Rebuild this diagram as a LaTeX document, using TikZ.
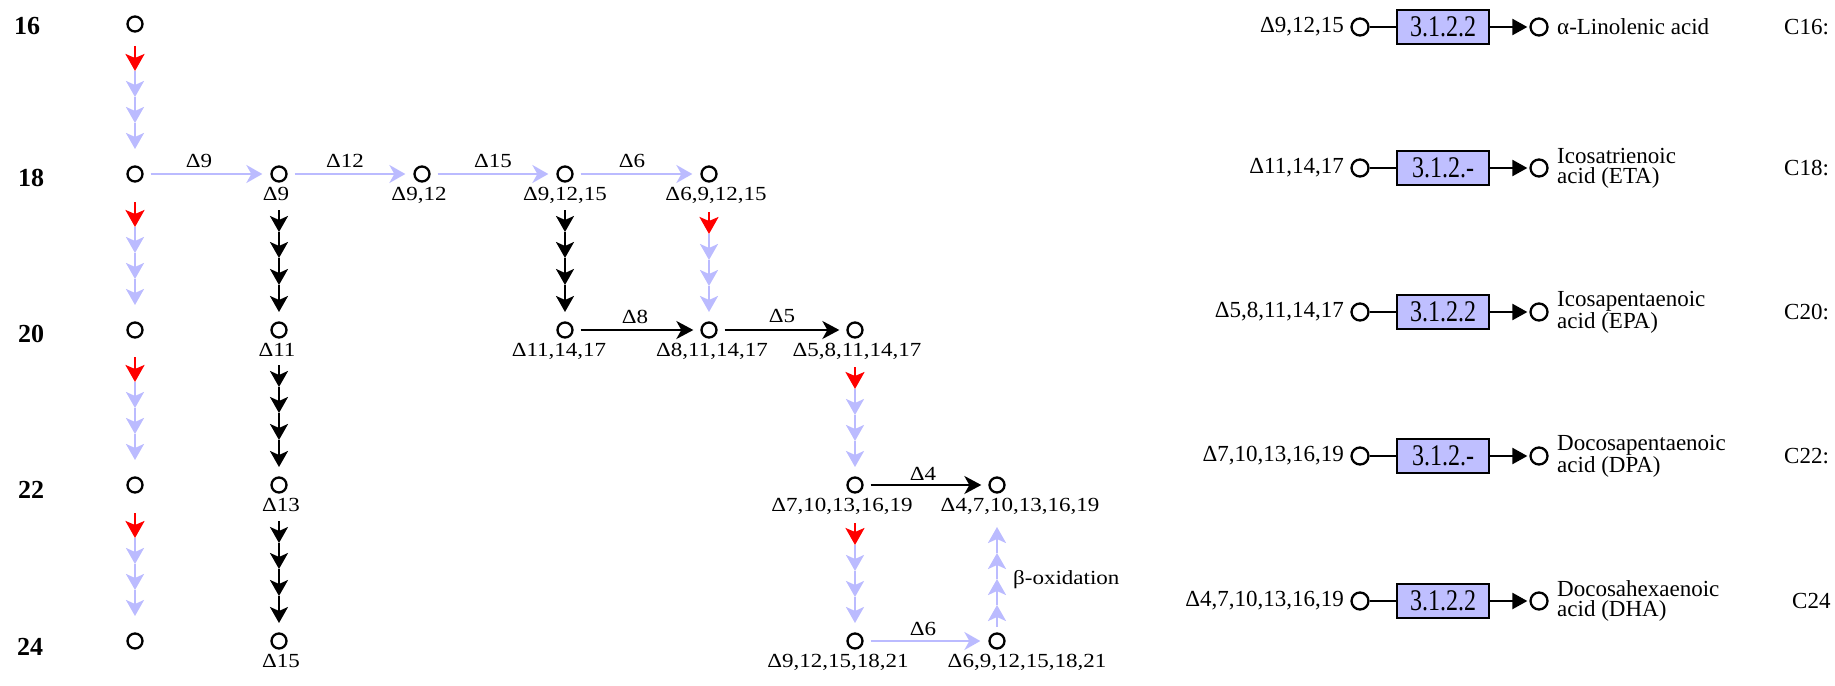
\documentclass[tikz,border=0pt]{standalone}
\usepackage{fontspec}
\setmainfont{Liberation Serif}
\newfontfamily\lblfont[FakeStretch=1.15]{Liberation Serif}
\newfontfamily\rfont{Liberation Serif}
\newfontfamily\boxfont[FakeStretch=0.8]{Liberation Serif}
\usetikzlibrary{arrows.meta,calc}
\definecolor{lav}{RGB}{187,187,255}
\definecolor{boxfill}{RGB}{191,191,255}
\newcommand{\chainleft}[1]{%
  \draw[redc] ($(#1)+(0,-128)$) -- ($(#1)+(0,-103)$);
  \foreach \a/\b in {-103/-77,-77/-51,-51/-25}
    \draw[lavc] ($(#1)+(0,\a)$) -- ($(#1)+(0,\b)$);}
\newcommand{\chainlav}[1]{%
  \draw[redc] ($(#1)+(0,-118)$) -- ($(#1)+(0,-96)$);
  \foreach \a/\b in {-96/-70,-70/-44,-44/-18}
    \draw[lavc] ($(#1)+(0,\a)$) -- ($(#1)+(0,\b)$);}
\newcommand{\chainblk}[1]{%
  \foreach \a/\b in {-120/-98,-98/-72,-72/-45,-45/-18}
    \draw[blkc] ($(#1)+(0,\a)$) -- ($(#1)+(0,\b)$);}
\begin{document}
\begin{tikzpicture}[x=1pt,y=-1pt,
  pt/.style={circle,draw,line width=2.3pt,minimum size=15pt,inner sep=0pt},
  rpt/.style={circle,draw,line width=2.3pt,minimum size=17pt,inner sep=0pt},
  lbl/.style={font=\lblfont\fontsize{20}{24}\selectfont,inner sep=0pt,anchor=base},
  rlbl/.style={font=\rfont\fontsize{23}{20}\selectfont,inner sep=0pt,align=left},
  numlbl/.style={font=\rfont\bfseries\fontsize{26}{30}\selectfont,inner sep=0pt},
  ecbox/.style={draw,line width=2pt,fill=boxfill,minimum width=92pt,minimum height=34pt,inner sep=0pt,font=\boxfont\fontsize{30}{30}\selectfont},
  lavline/.style={draw=lav,line width=2.4pt},
  lavh/.style={lavline,-{Stealth[length=16pt,width=18pt,inset=5pt]},shorten <=7pt,shorten >=8pt},
  blkh/.style={line width=2.4pt,-{Stealth[length=17pt,width=18pt,inset=5pt]},shorten <=7pt,shorten >=7pt},
  lavc/.style={lavline,-{Stealth[length=16pt,width=18pt,inset=4pt]}},
  redc/.style={draw=red,line width=2.6pt,-{Stealth[length=17pt,width=19pt,inset=4pt]}},
  blkc/.style={line width=2.4pt,-{Stealth[length=16pt,width=18pt,inset=4pt]}},
  rarr/.style={line width=2.3pt,-{Triangle[length=15pt,width=16pt]},shorten >=2pt},
]
\useasboundingbox (0,0) rectangle (1835,685);

% row numbers
\node[numlbl] (n16) at (27,26) {16};
\node[numlbl] (n18) at (31,178) {18};
\node[numlbl] (n20) at (31,334) {20};
\node[numlbl] (n22) at (31,490) {22};
\node[numlbl] (n24) at (30,647) {24};

% left column
\node[pt] (c16) at (135,24) {};
\node[pt] (c18) at (135,174) {};
\node[pt] (c20) at (135,330) {};
\node[pt] (c22) at (135,485) {};
\node[pt] (c24) at (135,641) {};
\chainleft{c18}
\chainleft{c20}
\chainleft{c22}
\chainleft{c24}

% pathway nodes
\node[pt] (d9) at (279,174) {};
\node[pt] (d11) at (279,330) {};
\node[pt] (d13) at (279,485) {};
\node[pt] (d15) at (279,641) {};
\node[pt] (d912) at (422,174) {};
\node[pt] (d91215) at (565,174) {};
\node[pt] (d691215) at (709,174) {};
\node[pt] (d111417) at (565,330) {};
\node[pt] (d8111417) at (709,330) {};
\node[pt] (d58) at (855,330) {};
\node[pt] (d710) at (855,485) {};
\node[pt] (d4710) at (997,485) {};
\node[pt] (d91221) at (855,641) {};
\node[pt] (d6921) at (997,641) {};

% node labels
\node[lbl] (ld9) at (276,200) {Δ9};
\node[lbl] (ld11) at (277,356) {Δ11};
\node[lbl] (ld13) at (281,511) {Δ13};
\node[lbl] (ld15) at (281,667) {Δ15};
\node[lbl] (ld912) at (419,200) {Δ9,12};
\node[lbl] (ld91215) at (565,200) {Δ9,12,15};
\node[lbl] (ld691215) at (716,200) {Δ6,9,12,15};
\node[lbl] (ld111417) at (559,356) {Δ11,14,17};
\node[lbl] (ld8111417) at (712,356) {Δ8,11,14,17};
\node[lbl] (ld58) at (857,356) {Δ5,8,11,14,17};
\node[lbl] (ld710) at (842,511) {Δ7,10,13,16,19};
\node[lbl] (ld4710) at (1020,511) {Δ4,7,10,13,16,19};
\node[lbl] (ld91221) at (838,667) {Δ9,12,15,18,21};
\node[lbl] (ld6921) at (1027,667) {Δ6,9,12,15,18,21};

% horizontal reactions
\draw[lavh] (c18) -- (d9);
\draw[lavh] (d9) -- (d912);
\draw[lavh] (d912) -- (d91215);
\draw[lavh] (d91215) -- (d691215);
\draw[blkh] (d111417) -- (d8111417);
\draw[blkh] (d8111417) -- (d58);
\draw[blkh] (d710) -- (d4710);
\draw[lavh] (d91221) -- (d6921);

\node[lbl] (e9) at (199,167) {Δ9};
\node[lbl] (e12) at (345,167) {Δ12};
\node[lbl] (e15) at (493,167) {Δ15};
\node[lbl] (e6a) at (632,167) {Δ6};
\node[lbl] (e8) at (635,323) {Δ8};
\node[lbl] (e5) at (782,322) {Δ5};
\node[lbl] (e4) at (923,480) {Δ4};
\node[lbl] (e6b) at (923,635) {Δ6};

% vertical chains
\chainblk{d11}
\chainblk{d13}
\chainblk{d15}
\chainblk{d111417}
\chainlav{d8111417}
\chainlav{d710}
\chainlav{d91221}

% beta-oxidation (upwards)
\draw[lavc] ($(d6921)+(0,-14)$) -- ($(d4710)+(0,120)$);
\foreach \a/\b in {120/94,94/68,68/42}
  \draw[lavc] ($(d4710)+(0,\a)$) -- ($(d4710)+(0,\b)$);
\node[lbl,anchor=base west] (beta) at (1013,584) {β-oxidation};

% right side: thioesterase reactions
\foreach \i/\y in {1/27,2/168,3/312,4/456,5/601}{
  \node[rpt] (rl\i) at (1360,\y) {};
  \node[rpt] (rr\i) at (1539,\y) {};
}
\node[ecbox] (b1) at (1443,27) {3.1.2.2};
\node[ecbox] (b2) at (1443,168) {3.1.2.-};
\node[ecbox] (b3) at (1443,312) {3.1.2.2};
\node[ecbox] (b4) at (1443,456) {3.1.2.-};
\node[ecbox] (b5) at (1443,601) {3.1.2.2};
\foreach \i in {1,...,5}{
  \draw[line width=2.3pt] (rl\i) -- (b\i);
  \draw[rarr] (b\i) -- (rr\i);
}
\node[rlbl,anchor=east] (s1) at (1344,27) {Δ9,12,15};
\node[rlbl,anchor=east] (s2) at (1344,168) {Δ11,14,17};
\node[rlbl,anchor=east] (s3) at (1344,312) {Δ5,8,11,14,17};
\node[rlbl,anchor=east] (s4) at (1344,456) {Δ7,10,13,16,19};
\node[rlbl,anchor=east] (s5) at (1344,601) {Δ4,7,10,13,16,19};
\node[rlbl,anchor=west] (p1) at (1557,27) {α-Linolenic acid};
\node[rlbl,anchor=west] (p2) at (1557,168) {Icosatrienoic\\acid (ETA)};
\node[rlbl,anchor=west] (p3) at (1557,312) {Icosapentaenoic\\acid (EPA)};
\node[rlbl,anchor=west] (p4) at (1557,456) {Docosapentaenoic\\acid (DPA)};
\node[rlbl,anchor=west] (p5) at (1557,601) {Docosahexaenoic\\acid (DHA)};
\node[rlbl,anchor=west] (k1) at (1784,27) {C16:};
\node[rlbl,anchor=west] (k2) at (1784,168) {C18:};
\node[rlbl,anchor=west] (k3) at (1784,312) {C20:};
\node[rlbl,anchor=west] (k4) at (1784,456) {C22:};
\node[rlbl,anchor=west] (k5) at (1792,601) {C24};
\end{tikzpicture}
\end{document}
